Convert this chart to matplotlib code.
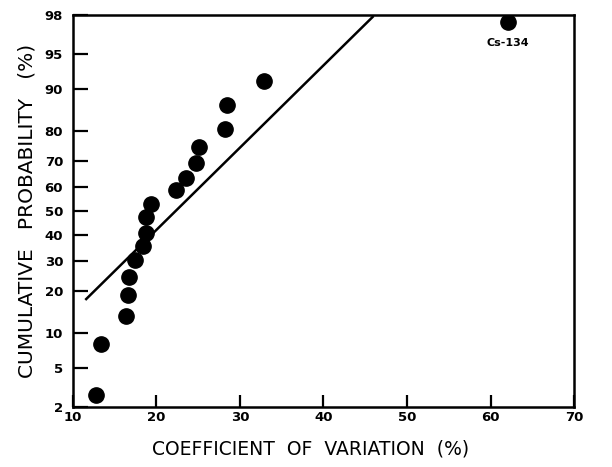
"""
Probability plot: cumulative probability vs coefficient of variation.
"""

import numpy as np
import matplotlib
matplotlib.use("Agg")
import matplotlib.pyplot as plt
from statistics import NormalDist

# -- Data --
cv_values = [12.8, 13.4, 16.4, 16.6, 16.7, 17.5, 18.4, 18.7, 18.7,
             19.4, 22.4, 23.5, 24.7, 25.1, 28.2, 28.5, 32.9, 62.1]
cum_prob = [2.7, 8.1, 13.5, 19.0, 24.5, 30.5, 35.8, 40.9, 47.3,
            53.1, 58.6, 63.6, 69.3, 75.0, 80.5, 86.6, 91.3, 97.6]

fit_cv = [11.6, 45.9]
fit_prob = [17.8, 97.9]

y_ticks = [2, 5, 10, 20, 30, 40, 50, 60, 70, 80, 90, 95, 98]
x_ticks = [10, 20, 30, 40, 50, 60, 70]

outlier_label = "Cs-134"

# -- Normal probability scale --
_nd = NormalDist()
_ppf = np.vectorize(lambda p: _nd.inv_cdf(p), otypes=[float])
_cdf = np.vectorize(lambda z: _nd.cdf(z), otypes=[float])


def forward(p):
    p = np.clip(np.asarray(p, dtype=float) / 100.0, 1e-9, 1 - 1e-9)
    return _ppf(p)


def inverse(z):
    return _cdf(np.asarray(z, dtype=float)) * 100.0


fig = plt.figure(figsize=(6.12, 4.67), dpi=100)
ax = fig.add_axes([0.119, 0.1285, 0.819, 0.8395])
ax.set_yscale("function", functions=(forward, inverse))

ax.plot(fit_cv, fit_prob, color="black", linewidth=1.8)
ax.plot(cv_values, cum_prob, "o", color="black", markersize=11)

ax.text(cv_values[-1], 96.1, outlier_label, ha="center", va="center",
        fontsize=8, fontweight="bold")

ax.set_xlim(10, 70)
ax.set_ylim(2, 98)
ax.set_xticks(x_ticks)
ax.set_xticklabels([str(t) for t in x_ticks], fontsize=9.5, fontweight="bold")
ax.set_yticks(y_ticks)
ax.set_yticklabels([str(t) for t in y_ticks], fontsize=9.5, fontweight="bold")
ax.yaxis.set_minor_locator(plt.NullLocator())

ax.tick_params(axis="y", direction="in", length=11, width=1.6, pad=7)
ax.tick_params(axis="x", direction="in", length=8.5, width=1.6, pad=3)

for s in ax.spines.values():
    s.set_linewidth(1.8)

ax.set_xlabel("COEFFICIENT  OF  VARIATION  (%)", fontsize=13.5)
ax.xaxis.set_label_coords(0.475, -0.083)
ax.set_ylabel("CUMULATIVE   PROBABILITY   (%)", fontsize=14.5, labelpad=6)

plt.savefig("out.png", dpi=100)
